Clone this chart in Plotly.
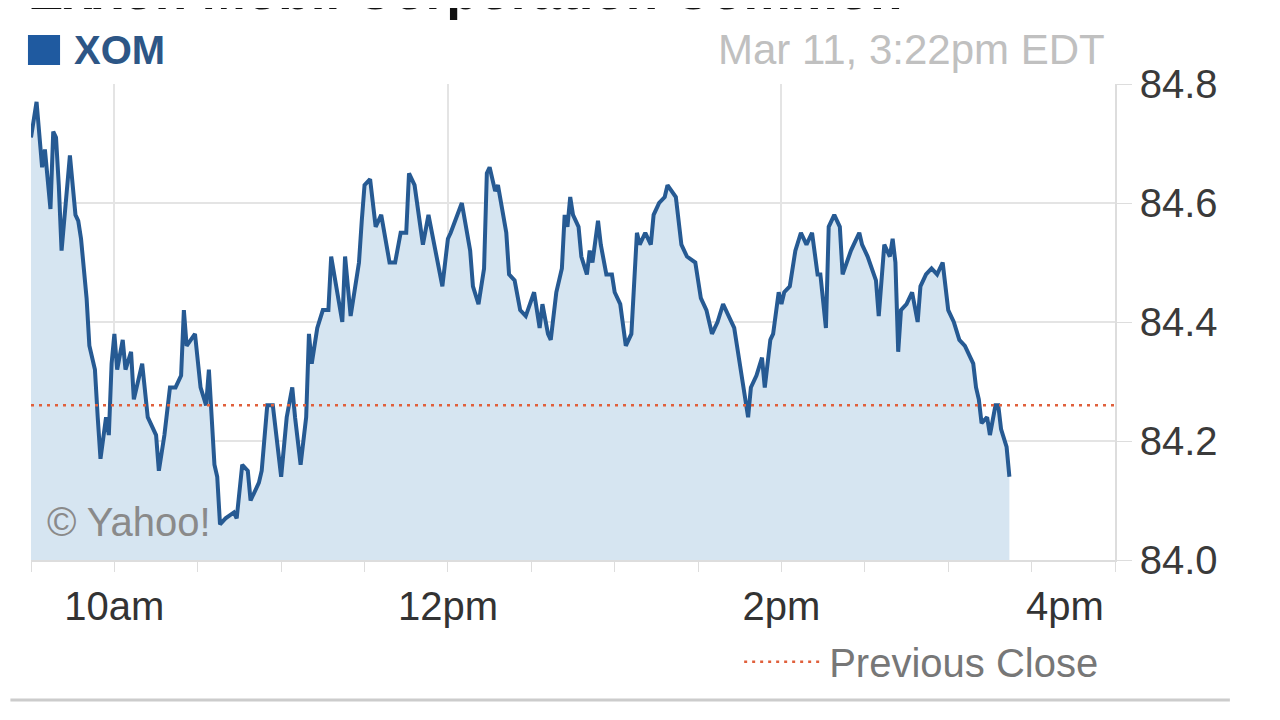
import pandas as pd
import plotly.graph_objects as go

# ---- data ----
symbol = "XOM"
title_text = "Exxon Mobil Corporation Common"
stamp_text = "Mar 11, 3:22pm EDT"
session_date = "2015-03-11"
session_open = "09:30"
session_close = "16:00"
previous_close = 84.26

minutes_from_open = [
    0, 2, 4, 5, 7, 8, 9, 10, 11, 14, 16, 17, 18, 20, 21, 23, 24, 25, 27, 28, 29, 30, 31, 33, 34, 36, 37, 40, 42, 45,
    46, 48, 50, 52, 54, 55, 56, 59, 61,
    63, 64, 66, 67, 68, 70, 73, 74, 76, 78, 79, 82, 83, 85, 87, 90, 92, 94, 95, 97, 99, 100, 101, 103, 105, 107, 108,
    112, 113, 115, 118, 119, 120,
    122, 124, 126, 129, 131, 133, 135, 136, 138, 141, 143, 148, 150, 151, 155, 158, 159, 161, 163, 164, 165, 167, 168,
    171, 172, 174, 176, 178, 181,
    183, 184, 186, 187, 189, 191, 192, 193, 194, 195, 197, 198, 200, 201, 202, 204, 205, 207, 209, 210, 212, 214, 216,
    218, 219, 221, 223, 224, 226, 228, 229, 232, 234, 236, 239,
    241, 243, 245, 247, 249, 251, 253, 254, 255, 257, 258, 259, 261, 263, 264, 266, 267, 269, 270, 271, 273, 275, 277,
    279, 281, 283, 284, 286, 287, 289, 291, 292, 295, 298, 299,
    301, 304, 305, 306, 307, 309, 310, 311, 312, 313, 315, 317, 319, 320, 322, 324, 326, 328, 329, 330, 332, 334, 336,
    338, 339, 340, 341, 342, 344, 345, 347, 348, 349, 351, 352,
]

prices = [
    84.71, 84.77, 84.66, 84.69, 84.59, 84.72, 84.71, 84.63, 84.52, 84.68, 84.58, 84.57, 84.54, 84.44, 84.36, 84.32,
    84.24, 84.17, 84.24, 84.21, 84.33, 84.38, 84.32, 84.37, 84.32, 84.35, 84.27, 84.33, 84.24, 84.21, 84.15, 84.21,
    84.29, 84.29, 84.31, 84.42, 84.36, 84.38, 84.29,
    84.26, 84.32, 84.16, 84.14, 84.06, 84.07, 84.08, 84.07, 84.16, 84.15, 84.10, 84.13, 84.15, 84.26, 84.26, 84.14,
    84.24, 84.29, 84.24, 84.16, 84.24, 84.38, 84.33, 84.39, 84.42, 84.42, 84.51, 84.40, 84.51, 84.41, 84.50, 84.57,
    84.63,
    84.64, 84.56, 84.58, 84.50, 84.50, 84.55, 84.55, 84.65, 84.63, 84.53, 84.58, 84.46, 84.54, 84.55, 84.60, 84.52,
    84.46, 84.43, 84.49, 84.65, 84.66, 84.62, 84.63, 84.55, 84.48, 84.47, 84.42, 84.41, 84.45,
    84.39, 84.43, 84.38, 84.37, 84.45, 84.49, 84.58, 84.56, 84.61, 84.58, 84.56, 84.51, 84.48, 84.52, 84.50, 84.57,
    84.53, 84.48, 84.48, 84.45, 84.43, 84.36, 84.38, 84.55, 84.53, 84.55, 84.53, 84.58, 84.60, 84.61, 84.63, 84.61,
    84.53, 84.51, 84.50,
    84.44, 84.42, 84.38, 84.40, 84.43, 84.41, 84.39, 84.36, 84.33, 84.27, 84.24, 84.29, 84.31, 84.34, 84.29, 84.37,
    84.38, 84.45, 84.43, 84.45, 84.46, 84.52, 84.55, 84.53, 84.55, 84.48, 84.48, 84.39, 84.56, 84.58, 84.56, 84.48,
    84.52, 84.55, 84.53,
    84.51, 84.47, 84.41, 84.48, 84.53, 84.51, 84.54, 84.50, 84.35, 84.42, 84.43, 84.45, 84.40, 84.46, 84.48, 84.49,
    84.48, 84.50, 84.46, 84.42, 84.40, 84.37, 84.36, 84.34, 84.33, 84.29, 84.27, 84.23, 84.24, 84.21, 84.26, 84.26,
    84.22, 84.19, 84.14,
]

y_ticks = [84.0, 84.2, 84.4, 84.6, 84.8]
x_tick_times = ["10:00", "12:00", "14:00", "16:00"]
x_tick_labels = ["10am", "12pm", "2pm", "4pm"]

# ---- build ----
open_ts = pd.Timestamp(f"{session_date} {session_open}")
close_ts = pd.Timestamp(f"{session_date} {session_close}")
times = open_ts + pd.to_timedelta(minutes_from_open, unit="min")
tickvals = [pd.Timestamp(f"{session_date} {t}") for t in x_tick_times]
ticktext = list(x_tick_labels)
ticktext[-1] = ticktext[-1] + "\u00a0" * 9

FONT = "Liberation Sans, Arial, sans-serif"
LINE = "#265a93"
FILL = "#d6e5f1"
GRID = "#e4e4e4"
FS = 40

fig = go.Figure()
fig.add_trace(go.Scatter(
    x=times, y=prices, mode="lines", name=symbol,
    line=dict(color=LINE, width=4),
    fill="tozeroy", fillcolor=FILL, showlegend=False, hoverinfo="skip",
))
fig.add_trace(go.Scatter(
    x=[open_ts, close_ts], y=[previous_close, previous_close], mode="lines",
    name="Previous Close", line=dict(color="#e0603c", width=2.5, dash="3px,5px"),
    showlegend=True, hoverinfo="skip",
))

fig.update_layout(
    width=1280, height=720,
    margin=dict(l=23, r=173, t=76, b=168),
    paper_bgcolor="white", plot_bgcolor="white",
    font=dict(family=FONT, size=FS, color="#333333"),
    showlegend=True,
    legend=dict(
        x=0.990, xanchor="right", y=-0.214, yanchor="middle",
        font=dict(size=FS, color="#777777"), itemwidth=80,
        bgcolor="rgba(0,0,0,0)",
    ),
    xaxis=dict(
        range=[open_ts, close_ts], type="date",
        tickvals=tickvals, ticktext=ticktext,
        showgrid=True, gridcolor=GRID, gridwidth=1.5,
        ticks="outside", ticklen=10, tickcolor="#dddddd",
        minor=dict(ticks="outside", dtick=30 * 60 * 1000, ticklen=10, tickcolor="#dddddd", showgrid=False),
        showline=True, linecolor="#dddddd", linewidth=1.5,
        tickfont=dict(size=FS, color="#333333"),
        zeroline=False, fixedrange=True,
    ),
    yaxis=dict(
        range=[84.0, 84.8], side="right",
        tickvals=y_ticks, ticktext=[f"{v:.1f}" for v in y_ticks],
        showgrid=True, gridcolor=GRID, gridwidth=1.5,
        ticks="outside", ticklen=15, tickcolor="#dddddd",
        showline=True, linecolor="#dddddd", linewidth=1.5,
        tickfont=dict(size=FS, color="#3a3a3a"),
        zeroline=False, fixedrange=True,
    ),
)

# header / decorations
fig.add_shape(type="rect", xref="paper", yref="paper",
              x0=-0.0028, x1=0.0268, y0=1.040, y1=1.103,
              fillcolor="#1f5aa0", line=dict(width=0))
fig.add_annotation(text=f"<b>{symbol}</b>", xref="paper", yref="paper",
                   x=0.038, y=1.0714, xanchor="left", yanchor="middle",
                   showarrow=False, font=dict(size=40, color="#2d5686", family=FONT))
fig.add_annotation(text=stamp_text, xref="paper", yref="paper",
                   x=0.9926, y=1.0735, xanchor="right", yanchor="middle",
                   showarrow=False, font=dict(size=42, color="#c0c0c0", family=FONT))
fig.add_annotation(text=f"<b>{title_text}</b>", xref="paper", yref="paper",
                   x=-0.005, y=1.196, xanchor="left", yanchor="middle",
                   showarrow=False, font=dict(size=53, color="#111111", family=FONT))
fig.add_annotation(text="© Yahoo!", xref="paper", yref="paper",
                   x=0.013, y=0.080, xanchor="left", yanchor="middle",
                   showarrow=False, font=dict(size=40, color="#8a8a8a", family=FONT))
fig.add_shape(type="line", xref="paper", yref="paper",
              x0=-0.019, x1=1.106, y0=-0.294, y1=-0.294,
              line=dict(color="#cccccc", width=3))

fig.write_html("out.html", config={"displayModeBar": False})
